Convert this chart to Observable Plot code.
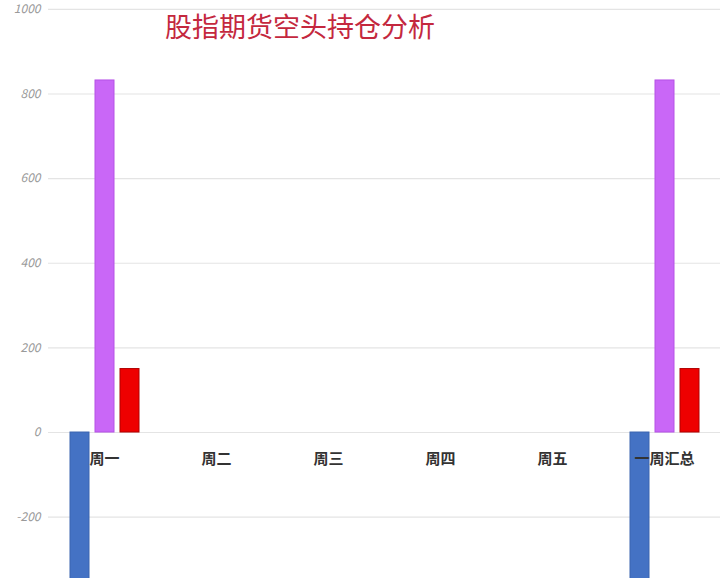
<!DOCTYPE html>
<html>
<head>
<meta charset="utf-8">
<script src="https://cdn.jsdelivr.net/npm/d3@7"></script>
<script src="https://cdn.jsdelivr.net/npm/@observablehq/plot@0.6"></script>
<style>
  html, body { margin: 0; padding: 0; background: #fff; }
  #wrap { position: relative; width: 720px; height: 578px; overflow: hidden; }
  #title { position: absolute; left: 165px; top: 6px; font-family: "Noto Sans CJK SC", sans-serif; font-size: 27px; color: #c4283e; letter-spacing: 0px; white-space: nowrap; }
</style>
</head>
<body>
<div id="wrap"><div id="title">股指期货空头持仓分析</div></div>
<script>
const days = ["周一", "周二", "周三", "周四", "周五", "一周汇总"];
const series = ["净变化", "空头持仓", "空头增减"];
const blueValues   = [-650, null, null, null, null, -650];
const purpleValues = [832, null, null, null, null, 832];
const redValues    = [150, null, null, null, null, 150];
const yTicks = [1000, 800, 600, 400, 200, 0, -200];
const colors = ["#4472c4", "#c967f7", "#ee0000"];
const strokes = ["#3a64b0", "#b552e6", "#b00000"];

const rows = [];
days.forEach((d, i) => {
  [blueValues, purpleValues, redValues].forEach((vals, j) => {
    if (vals[i] != null) rows.push({day: d, series: series[j], value: vals[i]});
  });
});

const chart = Plot.plot({
  width: 720,
  height: 578,
  marginLeft: 48,
  marginRight: 0,
  marginTop: 0,
  marginBottom: 0,
  style: {fontFamily: "'Noto Sans CJK SC', sans-serif", background: "transparent"},
  fx: {domain: days, padding: 0, axis: null},
  x: {domain: series, paddingInner: 0.24, paddingOuter: 0.86, axis: null},
  y: {domain: [-345, 1021], axis: null},
  color: {domain: series, range: colors},
  marks: [
    Plot.ruleY(yTicks, {stroke: "#e4e4e4", strokeWidth: 1.2}),
    Plot.axisY(yTicks, {tickSize: 0, tickPadding: 8, fill: "#9a9a9a", fontSize: 12, fontStyle: "italic",
      label: null, tickFormat: d => String(d), facetAnchor: "left"}),
    Plot.barY(rows, {fx: "day", x: "series", y: "value", fill: "series",
      stroke: d => strokes[series.indexOf(d.series)], strokeWidth: 1, clip: true}),
    Plot.text(days, {fx: d => d, y: 0, text: d => d, dy: 27, fontSize: 15, fill: "#333", fontWeight: "bold"})
  ]
});
document.getElementById("wrap").prepend(chart);
chart.style.position = "absolute";
chart.style.left = "0";
chart.style.top = "0";
</script>
</body>
</html>
